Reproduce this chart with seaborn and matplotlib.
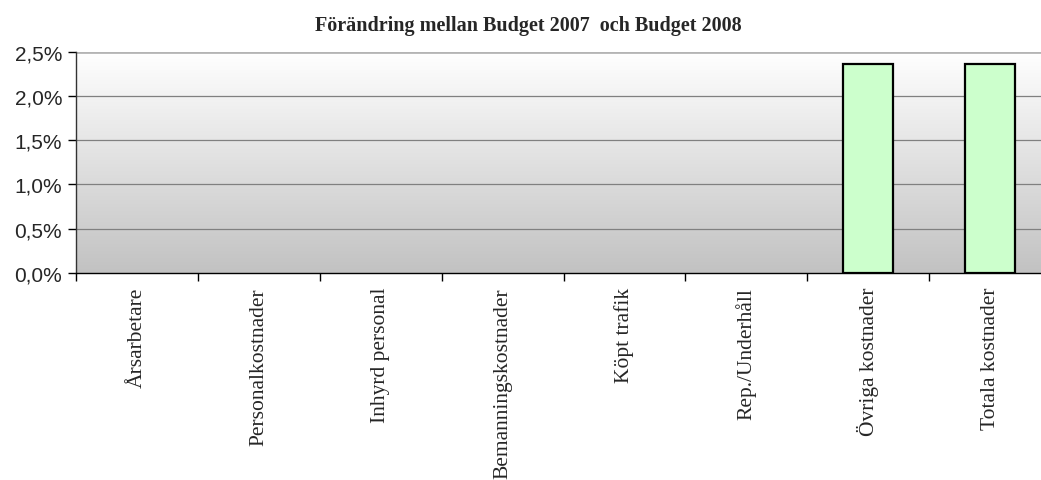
import numpy as np
import pandas as pd
import matplotlib
matplotlib.use("Agg")
import matplotlib.pyplot as plt
import seaborn as sns
from matplotlib.colors import LinearSegmentedColormap

categories = ["Årsarbetare", "Personalkostnader", "Inhyrd personal", "Bemanningskostnader",
              "Köpt trafik", "Rep./Underhåll", "Övriga kostnader", "Totala kostnader"]
values = [0.0, 0.0, 0.0, 0.0, 0.0, 0.0, 0.0236, 0.0236]
yticks = [0.0, 0.005, 0.010, 0.015, 0.020, 0.025]
title = "Förändring mellan Budget 2007  och Budget 2008"

df = pd.DataFrame({"Kategori": categories, "Andel": values})

sns.set_style("white")
plt.rcParams["font.family"] = ["Liberation Serif", "DejaVu Serif"]

fig = plt.figure(figsize=(10.41, 4.81), dpi=100)
ax = fig.add_axes([76 / 1041, 207 / 481, 975 / 1041, 221.3 / 481])

# gradient background white -> grey
cmap = LinearSegmentedColormap.from_list("bg", ["#c2c2c2", "#ffffff"])
grad = np.linspace(0, 1, 256).reshape(-1, 1)
ax.imshow(grad, cmap=cmap, aspect="auto", origin="lower",
          extent=[-0.5, len(categories) - 0.5, 0, 0.025], zorder=0)

sns.barplot(data=df, x="Kategori", y="Andel", color="#CCFFCC", edgecolor="black",
            linewidth=1.6, width=0.41, saturation=1, ax=ax, zorder=3)
# hide the empty (zero) bars
for p in ax.patches:
    if p.get_height() == 0:
        p.set_visible(False)

ax.set_xlim(-0.5, len(categories) - 0.5)
ax.set_ylim(0, 0.025)
ax.set_yticks(yticks)
ax.set_yticklabels([f"{v * 100:.1f}%".replace(".", ",") for v in yticks],
                   family="Liberation Sans", fontsize=15)
for v in yticks[1:-1]:
    ax.axhline(v, color="#808080", linewidth=0.9, zorder=1)
ax.axhline(0.025, color="#b4b4b4", linewidth=2, zorder=1)

# category ticks at boundaries, labels at centres
ax.set_xticks(np.arange(-0.5, len(categories), 1))
ax.set_xticklabels([])
ax.set_xticks(np.arange(len(categories)), minor=True)
ax.set_xticklabels(categories, minor=True, rotation=90, fontsize=15.5, va="top")
ax.tick_params(axis="x", which="minor", length=0, pad=10)
ax.tick_params(axis="x", which="major", direction="out", length=6, width=1, color="black", bottom=True)
ax.tick_params(axis="y", direction="out", length=6, width=1, color="black", left=True, pad=4)

ax.set_xlabel("")
ax.set_ylabel("")
for s in ["top", "right"]:
    ax.spines[s].set_visible(False)
ax.spines["left"].set_color("#333333")
ax.spines["bottom"].set_color("black")
ax.spines["left"].set_linewidth(1)
ax.spines["bottom"].set_linewidth(1)

fig.text(528 / 1041, 1 - 26 / 481, title, ha="center", va="center",
         fontsize=14.5, fontweight="bold")

fig.savefig("out.png", dpi=100)
